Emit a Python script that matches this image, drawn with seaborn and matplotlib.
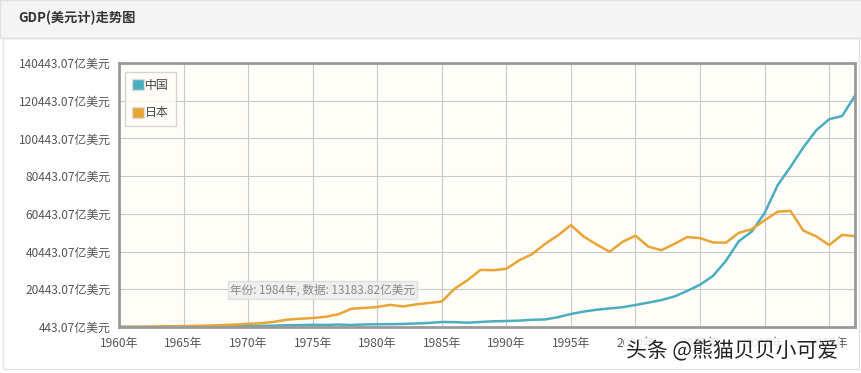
import matplotlib
matplotlib.use("Agg")
import matplotlib.pyplot as plt
from matplotlib.patches import Rectangle, Patch
import seaborn as sns
import pandas as pd

# GDP, 亿美元
years = list(range(1960, 2018))
china = [597, 501, 472, 507, 597, 704, 767, 729, 708, 797,
         926, 998, 1137, 1385, 1442, 1634, 1539, 1749, 1495, 1783,
         1911, 1959, 2051, 2307, 2599, 3095, 3008, 2729, 3124, 3478,
         3609, 3834, 4269, 4447, 5643, 7345, 8637, 9616, 10290, 10940,
         12110, 13390, 14710, 16600, 19550, 22860, 27520, 35500, 45940, 51020,
         60870, 75520, 85320, 95700, 104760, 110620, 112330, 123100]
japan = [443.07, 535, 607, 695, 817, 910, 1056, 1238, 1466, 1722,
         2126, 2402, 3180, 4321, 4796, 5215, 5862, 7214, 10136, 10550,
         11054, 12190, 11345, 12433, 13183.82, 13989, 20789, 25328, 30717, 30549,
         31328, 35844, 39088, 44541, 49070, 54491, 48337, 44147, 40325, 45621,
         48875, 43035, 41151, 44457, 48151, 47554, 45304, 45153, 50379, 52314,
         57001, 61575, 62032, 51557, 48504, 43895, 49267, 48600]
series_names = ["中国", "日本"]
colors = ["#4aaec0", "#e8a535"]
yticks = [443.07 + 20000 * i for i in range(8)]
xticks = list(range(1960, 2016, 5))

df = pd.DataFrame({"年份": years, "中国": china, "日本": japan})
long = df.melt(id_vars="年份", var_name="国家", value_name="GDP")

sns.set_theme(style="white")
plt.rcParams["font.family"] = ["Noto Sans CJK SC", "DejaVu Sans"]

fig = plt.figure(figsize=(8.62, 3.73), dpi=100)
fig.patch.set_facecolor("white")

# header bar and panel frame
fig.patches.append(Rectangle((0, 1 - 38 / 373), 1, 38 / 373, transform=fig.transFigure,
                             facecolor="#f4f4f4", edgecolor="#e0e0e0", lw=1, zorder=0))
fig.patches.append(Rectangle((3 / 862, 4 / 373), 856 / 862, 331 / 373, transform=fig.transFigure,
                             facecolor="none", edgecolor="#e2e2e2", lw=1, zorder=0))
fig.text(18 / 862, 1 - 18 / 373, "GDP(美元计)走势图", fontsize=9.5, fontweight="bold",
         color="#333333", va="center", ha="left")

ax = fig.add_axes([119 / 862, 1 - 327 / 373, 736 / 862, 264 / 373])
ax.set_facecolor("#fffdf7")

sns.lineplot(data=long, x="年份", y="GDP", hue="国家", palette=colors,
             hue_order=series_names, linewidth=1.8, ax=ax, legend=False)

ax.set_xlim(1960, 2017)
ax.set_ylim(yticks[0], yticks[-1])
ax.set_xticks(xticks)
ax.set_xticklabels([f"{y}年" for y in xticks])
ax.set_yticks(yticks)
ax.set_yticklabels([f"{v:.2f}亿美元" for v in yticks])
ax.tick_params(axis="both", labelsize=8.6, colors="#555555", length=4, width=0.8)
ax.tick_params(axis="x", pad=3)
ax.tick_params(axis="y", pad=2)
ax.grid(True, color="#c8c8c8", lw=0.8)
ax.set_axisbelow(True)
ax.set_xlabel("")
ax.set_ylabel("")
for s in ax.spines.values():
    s.set_color("#999999")
    s.set_linewidth(2)

handles = [Patch(facecolor=c, edgecolor="#dddddd") for c in colors]
leg = ax.legend(handles, series_names, loc="upper left", bbox_to_anchor=(0.005, 0.975),
                fontsize=8.6, frameon=True, fancybox=False, handlelength=1.0, handleheight=1.0,
                handletextpad=0.15, labelspacing=1.25, borderpad=0.55, borderaxespad=0.2)
leg.get_frame().set_edgecolor("#cccccc")
leg.get_frame().set_facecolor("#fffdf7")
for t in leg.get_texts():
    t.set_color("#444444")

# hover tooltip as shown in the screenshot
ax.text(1968.6, 20000, "年份: 1984年, 数据: 13183.82亿美元", fontsize=8.4, color="#888888",
        va="center", ha="left",
        bbox=dict(boxstyle="square,pad=0.2", facecolor="#eeeeee", edgecolor="#dddddd", alpha=0.9))

fig.text(626 / 862, 1 - 351 / 373, "头条 @熊猫贝贝小可爱", fontsize=15, color="#222222",
         va="center", ha="left",
         bbox=dict(boxstyle="square,pad=0.1", facecolor="white", edgecolor="none", alpha=0.85))

fig.savefig("out.png", dpi=100)
